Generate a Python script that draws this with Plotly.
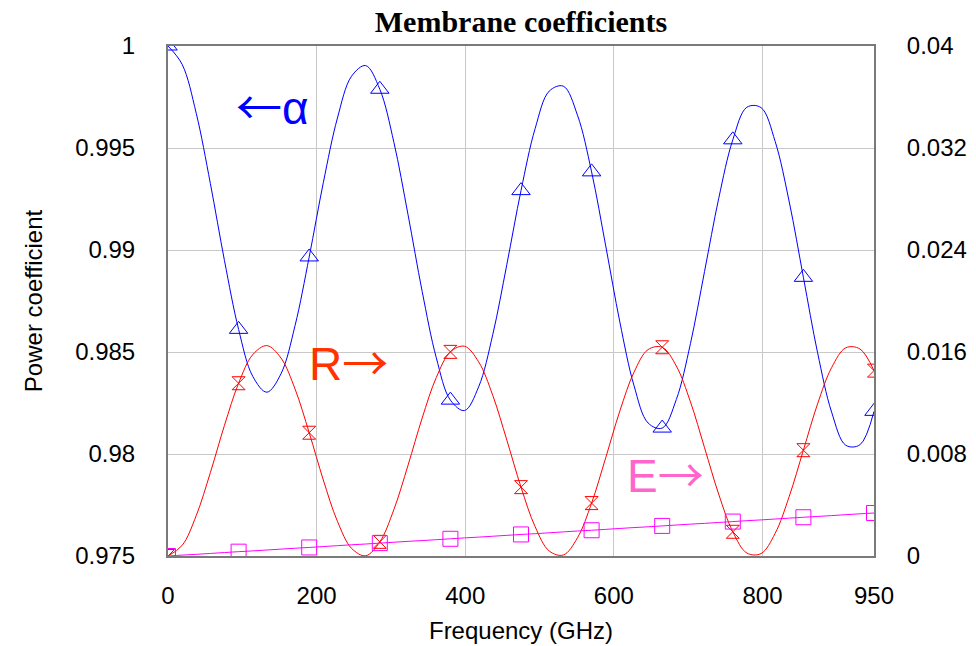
import plotly.graph_objects as go

# Frequency samples (GHz)
freq = [0, 19, 38, 57, 76, 95, 114, 133, 152, 171, 190, 209, 228, 247, 266, 285,
        304, 323, 342, 361, 380, 399, 418, 437, 456, 475, 494, 513, 532, 551, 570,
        589, 608, 627, 646, 665, 684, 703, 722, 741, 760, 779, 798, 817, 836, 855,
        874, 893, 912, 931, 950]

# Absorption alpha (left axis)
alpha = [1.0, 0.99910, 0.99670, 0.99326, 0.98948, 0.98611, 0.98381, 0.98303, 0.98393,
         0.98630, 0.98966, 0.99330, 0.99647, 0.99852, 0.99904, 0.99788, 0.99527,
         0.99173, 0.98797, 0.98472, 0.98264, 0.98213, 0.98329, 0.98585, 0.98930,
         0.99291, 0.99595, 0.99779, 0.99803, 0.99661, 0.99383, 0.99020, 0.98647,
         0.98336, 0.98152, 0.98127, 0.98267, 0.98541, 0.98895, 0.99252, 0.99540,
         0.99700, 0.99698, 0.99532, 0.99235, 0.98866, 0.98498, 0.98205, 0.98043,
         0.98045, 0.98209]

# Reflection R (right axis)
refl = [0.0, 0.00083, 0.00317, 0.00654, 0.01025, 0.01355, 0.01579, 0.01650, 0.01553,
        0.01309, 0.00967, 0.00596, 0.00272, 0.00060, 0.00002, 0.00111, 0.00365,
        0.00712, 0.01082, 0.01400, 0.01601, 0.01645, 0.01523, 0.01260, 0.00908,
        0.00540, 0.00230, 0.00039, 0.00008, 0.00143, 0.00415, 0.00771, 0.01137,
        0.01441, 0.01619, 0.01637, 0.01490, 0.01209, 0.00849, 0.00485, 0.00190,
        0.00023, 0.00019, 0.00178, 0.00468, 0.00830, 0.01192, 0.01478, 0.01633,
        0.01624, 0.01454]

# Emission E (right axis)
emis = [0.0, 0.00007, 0.00013, 0.00020, 0.00027, 0.00034, 0.00040, 0.00047, 0.00054,
        0.00061, 0.00067, 0.00074, 0.00081, 0.00088, 0.00094, 0.00101, 0.00108,
        0.00115, 0.00121, 0.00128, 0.00135, 0.00142, 0.00148, 0.00155, 0.00162,
        0.00169, 0.00175, 0.00182, 0.00189, 0.00196, 0.00202, 0.00209, 0.00216,
        0.00223, 0.00229, 0.00236, 0.00243, 0.00250, 0.00256, 0.00263, 0.00270,
        0.00277, 0.00283, 0.00290, 0.00297, 0.00304, 0.00310, 0.00317, 0.00324,
        0.00331, 0.00337]

x_ticks = [0, 200, 400, 600, 800, 950]
y_left_ticks = [0.975, 0.98, 0.985, 0.99, 0.995, 1.0]
y_left_text = ["0.975", "0.98", "0.985", "0.99", "0.995", "1"]
y_right_ticks = [0, 0.008, 0.016, 0.024, 0.032, 0.04]
y_right_text = ["0", "0.008", "0.016", "0.024", "0.032", "0.04"]

step = 5  # markers every 95 GHz

BLUE = "#0000FF"
RED = "#FF0000"
MAG = "#FF00FF"

fig = go.Figure()

fig.add_trace(go.Scatter(x=freq, y=alpha, mode="lines", line=dict(color=BLUE, width=1, shape="spline"),
                         showlegend=False, yaxis="y"))
fig.add_trace(go.Scatter(x=freq[::step], y=alpha[::step], mode="markers",
                         marker=dict(symbol="triangle-up-open", size=16, color=BLUE, line=dict(width=1, color=BLUE)),
                         showlegend=False, yaxis="y"))

fig.add_trace(go.Scatter(x=freq, y=refl, mode="lines", line=dict(color=RED, width=1, shape="spline"),
                         showlegend=False, yaxis="y2"))
fig.add_trace(go.Scatter(x=freq[::step], y=refl[::step], mode="markers",
                         marker=dict(symbol="hourglass-open", size=13, color=RED, line=dict(width=1, color=RED)),
                         showlegend=False, yaxis="y2"))

fig.add_trace(go.Scatter(x=freq, y=emis, mode="lines", line=dict(color=MAG, width=1, shape="spline"),
                         showlegend=False, yaxis="y2"))
fig.add_trace(go.Scatter(x=freq[::step], y=emis[::step], mode="markers",
                         marker=dict(symbol="square-open", size=15, color=MAG, line=dict(width=1, color=MAG)),
                         showlegend=False, yaxis="y2"))

ann_font = "Liberation Sans, Arial, sans-serif"
arrow_span = '<span style="font-family:\'Noto Sans CJK SC\'">{}</span>'
fig.add_annotation(x=141, y=0.99716, xref="x", yref="y", text=arrow_span.format("←") + "α", showarrow=False,
                   font=dict(family=ann_font, size=46, color=BLUE))
fig.add_annotation(x=243, y=0.98461, xref="x", yref="y", text="R" + arrow_span.format("→"), showarrow=False,
                   font=dict(family=ann_font, size=46, color="#FF3300"))
fig.add_annotation(x=670, y=0.97912, xref="x", yref="y", text="E" + arrow_span.format("→"), showarrow=False,
                   font=dict(family=ann_font, size=46, color="#FF66CC"))

axis_font = dict(family=ann_font, size=24, color="black")
AX = "#7A7A7A"

fig.update_layout(
    width=976, height=646,
    margin=dict(l=168, r=102, t=46, b=90),
    paper_bgcolor="white", plot_bgcolor="white",
    title=dict(text="<b>Membrane coefficients</b>", xref="paper", x=0.5, xanchor="center", y=0.967, yanchor="middle",
               font=dict(family="Liberation Serif, Times New Roman, serif", size=30, color="black")),
    xaxis=dict(range=[0, 950], tickvals=x_ticks, ticktext=[str(v) for v in x_ticks],
               showgrid=True, gridcolor="#C8C8C8", gridwidth=1, zeroline=False,
               showline=True, linecolor=AX, linewidth=2, mirror=True, automargin=False,
               ticks="", ticklabelstandoff=17, tickfont=axis_font,
               title=dict(text="Frequency (GHz)", font=axis_font, standoff=14)),
    yaxis=dict(range=[0.975, 1.0], tickvals=y_left_ticks, ticktext=y_left_text,
               showgrid=True, gridcolor="#C8C8C8", gridwidth=1, zeroline=False,
               showline=True, linecolor=AX, linewidth=2, automargin=False,
               ticks="", ticklabelstandoff=26, tickfont=axis_font,
               title=dict(text="Power coefficient", font=axis_font, standoff=26)),
    yaxis2=dict(range=[0, 0.04], tickvals=y_right_ticks, ticktext=y_right_text,
                overlaying="y", side="right", showgrid=False, zeroline=False,
                showline=True, linecolor=AX, linewidth=2, automargin=False,
                ticks="", ticklabelstandoff=26, tickfont=axis_font),
)

fig.write_html("out.html")
